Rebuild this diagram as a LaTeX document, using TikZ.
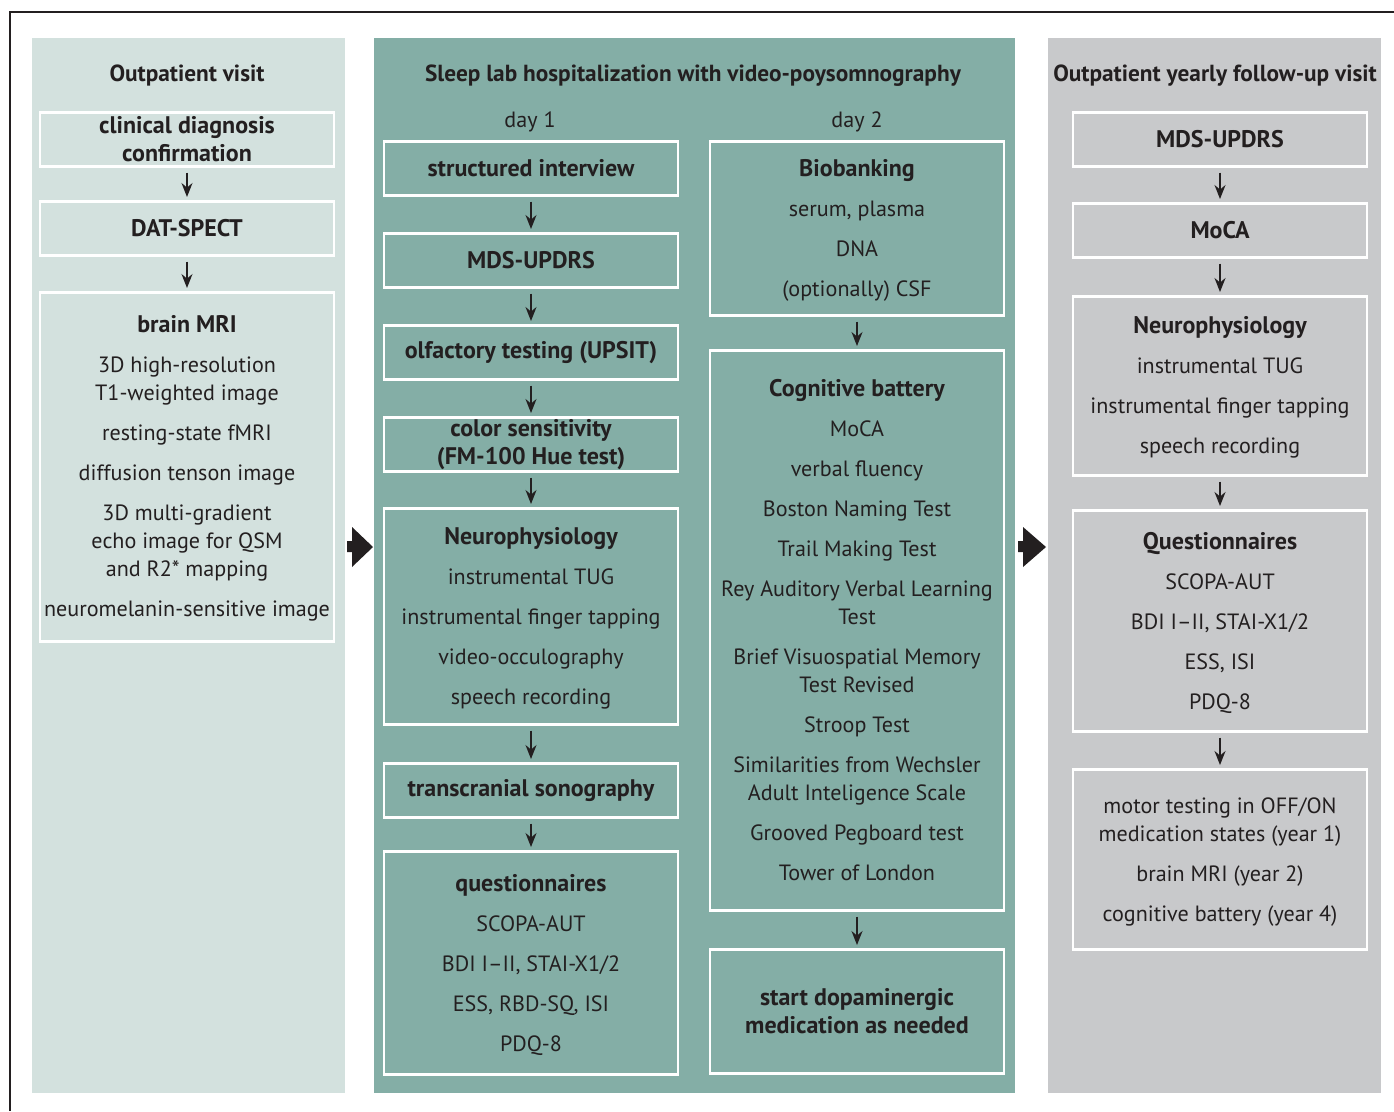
\documentclass[tikz,border=0pt]{standalone}
\usepackage{fontspec}
\setmainfont{PT Sans}
\usetikzlibrary{arrows.meta}
\definecolor{cA}{HTML}{D3E1DE}
\definecolor{cB}{HTML}{84AEA6}
\definecolor{cC}{HTML}{C8C9CB}
\definecolor{ink}{HTML}{231F20}
\newcommand{\hb}[1]{{\fontsize{24}{28}\selectfont\bfseries #1}}
\newcommand{\tp}{\rule{0pt}{21pt}}
\begin{document}
\begin{tikzpicture}[x=1pt,y=-1pt,
  box/.style={draw=white,line width=2.5pt,minimum width=294pt,inner sep=0pt,align=center,text=ink,font=\fontsize{22.1}{28}\selectfont,anchor=north},
  hd/.style={font=\fontsize{23.3}{28}\selectfont\bfseries,text=ink},
  dy/.style={font=\fontsize{22.1}{28}\selectfont,text=ink},
  arr/.style={-{Stealth[length=14pt,width=11pt]},line width=1.4pt,draw=ink,shorten <=5pt,shorten >=3pt},
  big/.style={fill=ink,draw=none},
]
\useasboundingbox (0,0) rectangle (1394,1111);
\fill[white] (0,0) rectangle (1394,1111);
% frame
\draw[line width=1.5pt,draw=ink] (10,1111) -- (10,12) -- (1394,12);
% columns
\fill[cA] (32,38) rectangle (345,1093);
\fill[cB] (374,38) rectangle (1015,1093);
\fill[cC] (1048,38) rectangle (1381,1093);
% titles
\node[hd] (t1) at (187,76) {Outpatient visit};
\node[hd] (t2) at (693,76) {Sleep lab hospitalization with video-poysomnography};
\node[hd] (t3) at (1215,76) {Outpatient yearly follow-up visit};
\node[dy] (d1) at (530,122) {day 1};
\node[dy] (d2) at (857,122) {day 2};
% column 1
\node[box,minimum height=54pt] (a1) at (187,111) {\hb{clinical diagnosis}\\\hb{confirmation}};
\node[box,minimum height=54pt] (a2) at (187,200) {\hb{DAT-SPECT}};
\node[box,minimum height=349pt] (a3) at (187,291) {\tp\hb{brain MRI}\\[12pt]3D high-resolution\\T1-weighted image\\[12pt]resting-state fMRI\\[12pt]diffusion tenson image\\[12pt]3D multi-gradient\\echo image for QSM\\and R2* mapping\\[12pt]neuromelanin-sensitive image};
\draw[arr] (a1) -- (a2);
\draw[arr] (a2) -- (a3);
% column 2 left
\node[box,minimum height=54pt] (b1) at (531,140) {\hb{structured interview}};
\node[box,minimum height=54pt] (b2) at (531,232) {\hb{MDS-UPDRS}};
\node[box,minimum height=54pt] (b3) at (531,324) {\hb{olfactory testing (UPSIT)}};
\node[box,minimum height=54pt] (b4) at (531,416) {\hb{color sensitivity}\\\hb{(FM-100 Hue test)}};
\node[box,minimum height=216pt] (b5) at (531,507) {\tp\hb{Neurophysiology}\\[12pt]instrumental TUG\\[12pt]instrumental finger tapping\\[12pt]video-occulography\\[12pt]speech recording};
\node[box,minimum height=54pt] (b6) at (531,762) {\hb{transcranial sonography}};
\node[box,minimum height=223pt] (b7) at (531,850) {\tp\hb{questionnaires}\\[12pt]SCOPA-AUT\\[12pt]BDI I--II, STAI-X1/2\\[12pt]ESS, RBD-SQ, ISI\\[12pt]PDQ-8};
\draw[arr] (b1) -- (b2);
\draw[arr] (b2) -- (b3);
\draw[arr] (b3) -- (b4);
\draw[arr] (b4) -- (b5);
\draw[arr] (b5) -- (b6);
\draw[arr] (b6) -- (b7);
% column 2 right
\node[box,minimum height=174pt] (c1) at (857,140) {\tp\hb{Biobanking}\\[12pt]serum, plasma\\[12pt]DNA\\[12pt](optionally) CSF};
\node[box,minimum height=560pt] (c2) at (857,349) {\hb{Cognitive battery}\\[12pt]MoCA\\[12pt]verbal fluency\\[12pt]Boston Naming Test\\[12pt]Trail Making Test\\[12pt]Rey Auditory Verbal Learning\\Test\\[12pt]Brief Visuospatial Memory\\Test Revised\\[12pt]Stroop Test\\[12pt]Similarities from Wechsler\\Adult Inteligence Scale\\[12pt]Grooved Pegboard test\\[12pt]Tower of London};
\node[box,minimum height=124pt] (c3) at (857,948) {\hb{start dopaminergic}\\\hb{medication as needed}};
\draw[arr] (c1) -- (c2);
\draw[arr] (c2) -- (c3);
% column 3
\node[box,minimum height=54pt] (e1) at (1220,111) {\hb{MDS-UPDRS}};
\node[box,minimum height=54pt] (e2) at (1220,202) {\hb{MoCA}};
\node[box,minimum height=179pt] (e3) at (1220,295) {\tp\hb{Neurophysiology}\\[12pt]instrumental TUG\\[12pt]instrumental finger tapping\\[12pt]speech recording};
\node[box,minimum height=221pt] (e4) at (1220,509) {\tp\hb{Questionnaires}\\[12pt]SCOPA-AUT\\[12pt]BDI I--II, STAI-X1/2\\[12pt]ESS, ISI\\[12pt]PDQ-8};
\node[box,minimum height=180pt] (e5) at (1220,768) {\tp motor testing in OFF/ON\\medication states (year 1)\\[12pt]brain MRI (year 2)\\[12pt]cognitive battery (year 4)};
\draw[arr] (e1) -- (e2);
\draw[arr] (e2) -- (e3);
\draw[arr] (e3) -- (e4);
\draw[arr] (e4) -- (e5);
% big arrows between columns
\fill[big] (347,541) -- (352,541) -- (352,527) -- (373,547) -- (352,567) -- (352,552) -- (347,552) -- cycle;
\fill[big] (1018,541) -- (1023,541) -- (1023,527) -- (1046,547) -- (1023,567) -- (1023,552) -- (1018,552) -- cycle;
\end{tikzpicture}
\end{document}
